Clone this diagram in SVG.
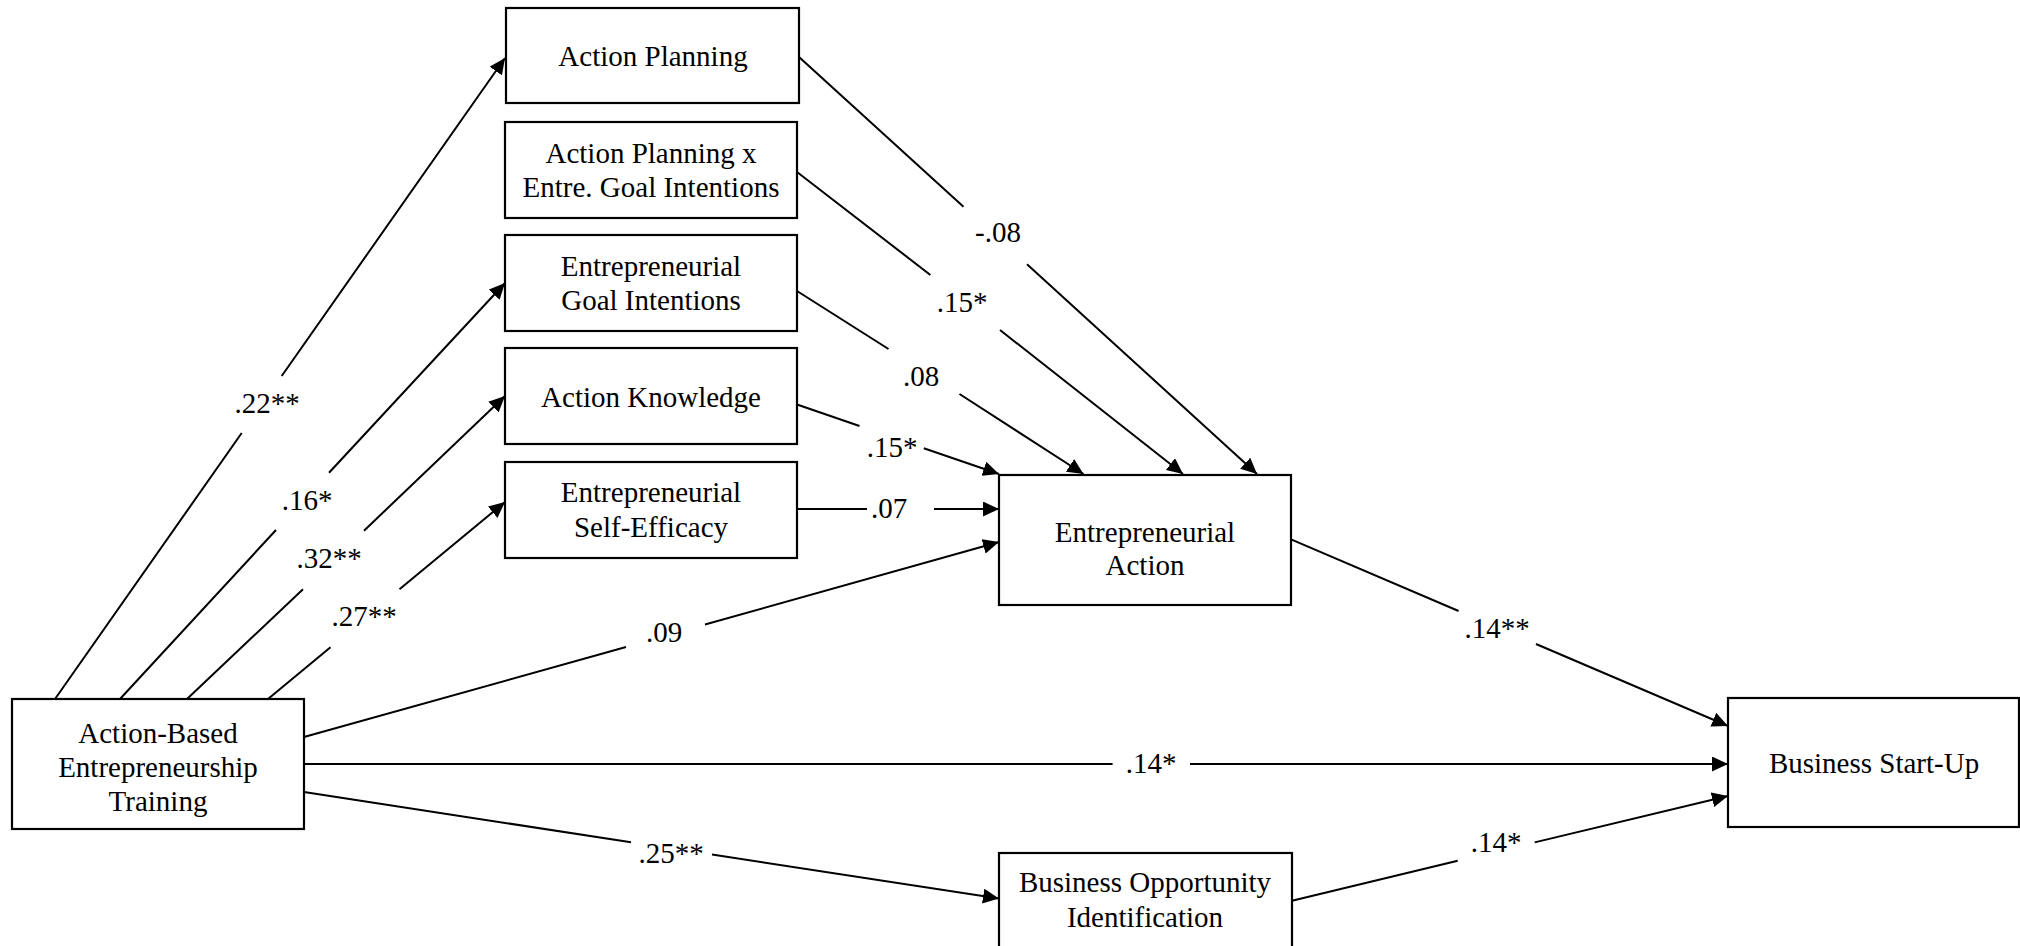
<svg xmlns="http://www.w3.org/2000/svg" width="2020" height="946" viewBox="0 0 2020 946">
<style>
.box{fill:#fff;stroke:#000;stroke-width:2.2}
.t{font-family:"Liberation Serif","Times New Roman",serif;font-size:29px;fill:#000;text-anchor:middle}
.ln{fill:none;stroke:#000;stroke-width:2;marker-end:url(#arrow)}
</style>
<defs>
<marker id="arrow" markerWidth="16" markerHeight="15" refX="16" refY="7.5" orient="auto" markerUnits="userSpaceOnUse">
<path d="M0,0 L16,7.5 L0,15 z" fill="#000"/>
</marker>
</defs>
<rect width="2020" height="946" fill="#fff"/>
<g id="connectors">
<path class="ln" d="M55,699 L241.7,433 M281.7,376 L505,58"/>
<path class="ln" d="M120,699 L276,530 M329,472.7 L505,283"/>
<path class="ln" d="M187,699 L303,589.3 M364,530.7 L505,396"/>
<path class="ln" d="M268,699 L330.5,647.3 M399.5,589.3 L505,502"/>
<path class="ln" d="M799,57 L963.5,206.7 M1027,264.3 L1257,474"/>
<path class="ln" d="M797,172 L930.4,275 M1000,330 L1183,474"/>
<path class="ln" d="M797,291 L888.5,349 M959.5,394 L1083.5,474"/>
<path class="ln" d="M797,404.5 L859.5,426 M923.8,448.3 L999,474"/>
<path class="ln" d="M797,509 L867,509 M934,509 L999,509"/>
<path class="ln" d="M304,737 L626,647 M705,624.5 L999,542"/>
<path class="ln" d="M304,764 L1112.6,764 M1190,764 L1728,764"/>
<path class="ln" d="M304,792 L631,842.3 M712,854.6 L999,898.5"/>
<path class="ln" d="M1291,539.3 L1458.6,611 M1536,644 L1728,726"/>
<path class="ln" d="M1292,900.7 L1457.7,860.8 M1534.7,842.4 L1728,796"/>
<text class="t" x="267" y="413">.22**</text>
<text class="t" x="307" y="510">.16*</text>
<text class="t" x="329" y="568">.32**</text>
<text class="t" x="364" y="626">.27**</text>
<text class="t" x="998" y="242">-.08</text>
<text class="t" x="962" y="312">.15*</text>
<text class="t" x="921" y="386">.08</text>
<text class="t" x="892" y="457">.15*</text>
<text class="t" x="889" y="518">.07</text>
<text class="t" x="664" y="642">.09</text>
<text class="t" x="1151" y="773">.14*</text>
<text class="t" x="671" y="863">.25**</text>
<text class="t" x="1497" y="638">.14**</text>
<text class="t" x="1496" y="852">.14*</text>
</g>
<g id="action-planning">
<rect class="box" x="506" y="8" width="293" height="95"/>
<text class="t" x="653" y="66">Action Planning</text>
</g>
<g id="ap-x-egi">
<rect class="box" x="505" y="122" width="292" height="96"/>
<text class="t" x="651" y="163">Action Planning x</text>
<text class="t" x="651" y="197">Entre. Goal Intentions</text>
</g>
<g id="goal-intentions">
<rect class="box" x="505" y="235" width="292" height="96"/>
<text class="t" x="651" y="276">Entrepreneurial</text>
<text class="t" x="651" y="310">Goal Intentions</text>
</g>
<g id="action-knowledge">
<rect class="box" x="505" y="348" width="292" height="96"/>
<text class="t" x="651" y="407">Action Knowledge</text>
</g>
<g id="self-efficacy">
<rect class="box" x="505" y="462" width="292" height="96"/>
<text class="t" x="651" y="502">Entrepreneurial</text>
<text class="t" x="651" y="537">Self-Efficacy</text>
</g>
<g id="training">
<rect class="box" x="12" y="699" width="292" height="130"/>
<text class="t" x="158" y="743">Action-Based</text>
<text class="t" x="158" y="777">Entrepreneurship</text>
<text class="t" x="158" y="811">Training</text>
</g>
<g id="entrepreneurial-action">
<rect class="box" x="999" y="475" width="292" height="130"/>
<text class="t" x="1145" y="542">Entrepreneurial</text>
<text class="t" x="1145" y="575">Action</text>
</g>
<g id="opportunity-identification">
<rect class="box" x="999" y="853" width="293" height="130"/>
<text class="t" x="1145" y="892">Business Opportunity</text>
<text class="t" x="1145" y="927">Identification</text>
</g>
<g id="business-start-up">
<rect class="box" x="1728" y="698" width="291" height="129"/>
<text class="t" x="1874" y="773">Business Start-Up</text>
</g>
</svg>
